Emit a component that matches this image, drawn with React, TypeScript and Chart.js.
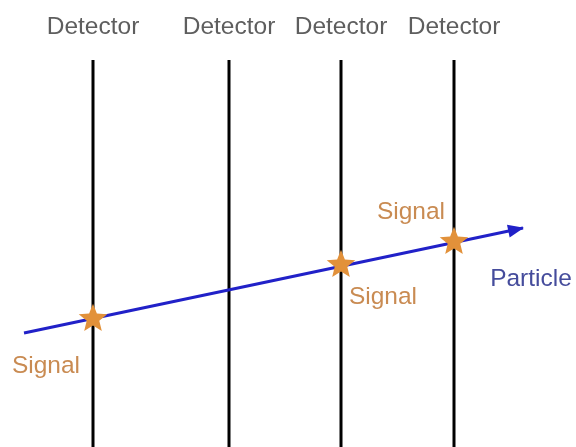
import React, { useEffect, useRef } from "react";
import { Chart, registerables } from "chart.js";

Chart.register(...registerables);

// Diagram coordinates (x to the right, y upward)
const detectorX = [93, 229, 341, 454];
const detectorBottom = 0;
const detectorTop = 387;
const detectorLabel = "Detector";
const detectorLabelY = 420;

const particleX = [24, 523];
const particleY = [114, 219];
const particleLabel = "Particle";
const particleLabelPos = [531, 168];

const signalX = [93, 341, 454];
const signalY = [129, 183, 206];
const signalLabel = "Signal";
const signalLabelX = [46, 383, 411];
const signalLabelY = [81, 150, 235];

const FONT = "'Liberation Sans', Arial, Helvetica, sans-serif";

function makeStar(): HTMLCanvasElement {
  const c = document.createElement("canvas");
  c.width = 34;
  c.height = 34;
  const ctx = c.getContext("2d")!;
  const cx = 17, cy = 17.8, R = 15, r = 6.6;
  ctx.beginPath();
  for (let i = 0; i < 10; i++) {
    const a = -Math.PI / 2 + (i * Math.PI) / 5;
    const rad = i % 2 === 0 ? R : r;
    const px = cx + rad * Math.cos(a);
    const py = cy + rad * Math.sin(a);
    if (i === 0) ctx.moveTo(px, py);
    else ctx.lineTo(px, py);
  }
  ctx.closePath();
  ctx.fillStyle = "#E2913A";
  ctx.fill();
  return c;
}

const annotationPlugin = {
  id: "diagramText",
  afterDatasetsDraw(chart: any) {
    const { ctx, scales } = chart;
    const xs = scales.x, ys = scales.y;
    ctx.save();
    // arrow head
    const x0 = xs.getPixelForValue(particleX[0]);
    const y0 = ys.getPixelForValue(particleY[0]);
    const x1 = xs.getPixelForValue(particleX[1]);
    const y1 = ys.getPixelForValue(particleY[1]);
    const ang = Math.atan2(y1 - y0, x1 - x0);
    const L = 15, W = 6.5;
    ctx.translate(x1, y1);
    ctx.rotate(ang);
    ctx.beginPath();
    ctx.moveTo(1, 0);
    ctx.lineTo(-L, -W);
    ctx.lineTo(-L, W);
    ctx.closePath();
    ctx.fillStyle = "#2121C8";
    ctx.fill();
    ctx.restore();

    ctx.save();
    ctx.textAlign = "center";
    ctx.textBaseline = "middle";
    ctx.font = `24.5px ${FONT}`;
    ctx.fillStyle = "#5E5E5E";
    detectorX.forEach((x) => {
      ctx.fillText(detectorLabel, xs.getPixelForValue(x), ys.getPixelForValue(detectorLabelY));
    });
    ctx.fillStyle = "#C98B52";
    signalLabelX.forEach((x, i) => {
      ctx.fillText(signalLabel, xs.getPixelForValue(x), ys.getPixelForValue(signalLabelY[i]));
    });
    ctx.fillStyle = "#454C9C";
    ctx.fillText(particleLabel, xs.getPixelForValue(particleLabelPos[0]), ys.getPixelForValue(particleLabelPos[1]));
    ctx.restore();
  },
};

export default function App() {
  const ref = useRef<HTMLCanvasElement>(null);
  useEffect(() => {
    document.body.style.margin = "0";
    const star = makeStar();
    const datasets: any[] = detectorX.map((x) => ({
      data: [
        { x, y: detectorBottom },
        { x, y: detectorTop },
      ],
      showLine: true,
      borderColor: "#000000",
      borderWidth: 3,
      pointRadius: 0,
      order: 3,
    }));
    datasets.push({
      data: particleX.map((x, i) => ({ x, y: particleY[i] })),
      showLine: true,
      borderColor: "#2121C8",
      borderWidth: 3,
      pointRadius: 0,
      order: 2,
    });
    datasets.push({
      data: signalX.map((x, i) => ({ x, y: signalY[i] })),
      showLine: false,
      pointStyle: star,
      pointRadius: 15,
      order: 1,
    });
    const chart = new Chart(ref.current!, {
      type: "scatter",
      data: { datasets },
      options: {
        animation: false,
        responsive: false,
        layout: { padding: 0, autoPadding: false },
        plugins: { legend: { display: false }, tooltip: { enabled: false } },
        scales: {
          x: { type: "linear", min: 0, max: 576, display: false },
          y: { type: "linear", min: 0, max: 447, display: false },
        },
      },
      plugins: [annotationPlugin],
    });
    return () => chart.destroy();
  }, []);
  return <canvas ref={ref} width={576} height={447} style={{ display: "block" }} />;
}
